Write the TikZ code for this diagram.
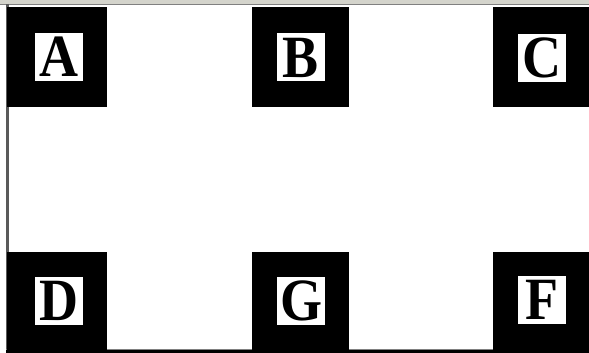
\documentclass[tikz,border=0pt]{standalone}
\usepackage{fontspec}
\setmainfont{Liberation Serif}
\usepackage{tikz}
\usetikzlibrary{positioning}
\definecolor{marcoGris}{HTML}{808080}
\definecolor{marcoClaro}{HTML}{D4D4CC}
\newcommand{\letraAlta}[1]{\scalebox{0.9}[1]{#1}}

\begin{document}
\begin{tikzpicture}[x=1pt, y=-1pt,
    bloque/.style={fill=black, draw=none, inner sep=0pt, outer sep=0pt},
    letra/.style={fill=white, draw=none, inner sep=0pt, outer sep=0pt, minimum size=48pt,
                  font=\fontsize{60}{60}\selectfont\bfseries}]
    \useasboundingbox (0,0) rectangle (589,353);
    \fill[white] (0,0) rectangle (589,353);

    % Marco
    \fill[marcoClaro] (0,0) rectangle (589,4);
    \draw[marcoGris, line width=1.5pt] (0,4.5) -- (589,4.5);
    \draw[marcoGris!70!black, line width=2.5pt] (7.5,4) -- (7.5,353);
    \fill[black] (6,350) rectangle (589,353);
    \draw[marcoGris, line width=1pt] (6,349.5) -- (589,349.5);

    % Bloques superiores
    \node[bloque, minimum width=100pt, minimum height=100pt] (bA) at (57,57) {};
    \node[bloque, minimum width=97pt, minimum height=100pt] (bB) at (300.5,57) {};
    \node[bloque, minimum width=96pt, minimum height=100pt] (bC) at (541,57) {};

    % Bloques inferiores
    \node[bloque, minimum width=100pt, minimum height=98pt] (bD) at (57,301) {};
    \node[bloque, minimum width=97pt, minimum height=98pt] (bG) at (300.5,301) {};
    \node[bloque, minimum width=96pt, minimum height=98pt] (bF) at (541,301) {};

    % Etiquetas
    \node[letra] (lA) at (59,57) {\letraAlta{A}};
    \node[letra] (lB) at (300.5,57.5) {\letraAlta{B}};
    \node[letra] (lC) at (541.5,58) {\letraAlta{C}};
    \node[letra] (lD) at (58.5,300.5) {\letraAlta{D}};
    \node[letra] (lG) at (301,301) {\letraAlta{G}};
    \node[letra] (lF) at (541.5,300) {\letraAlta{F}};
\end{tikzpicture}
\end{document}
